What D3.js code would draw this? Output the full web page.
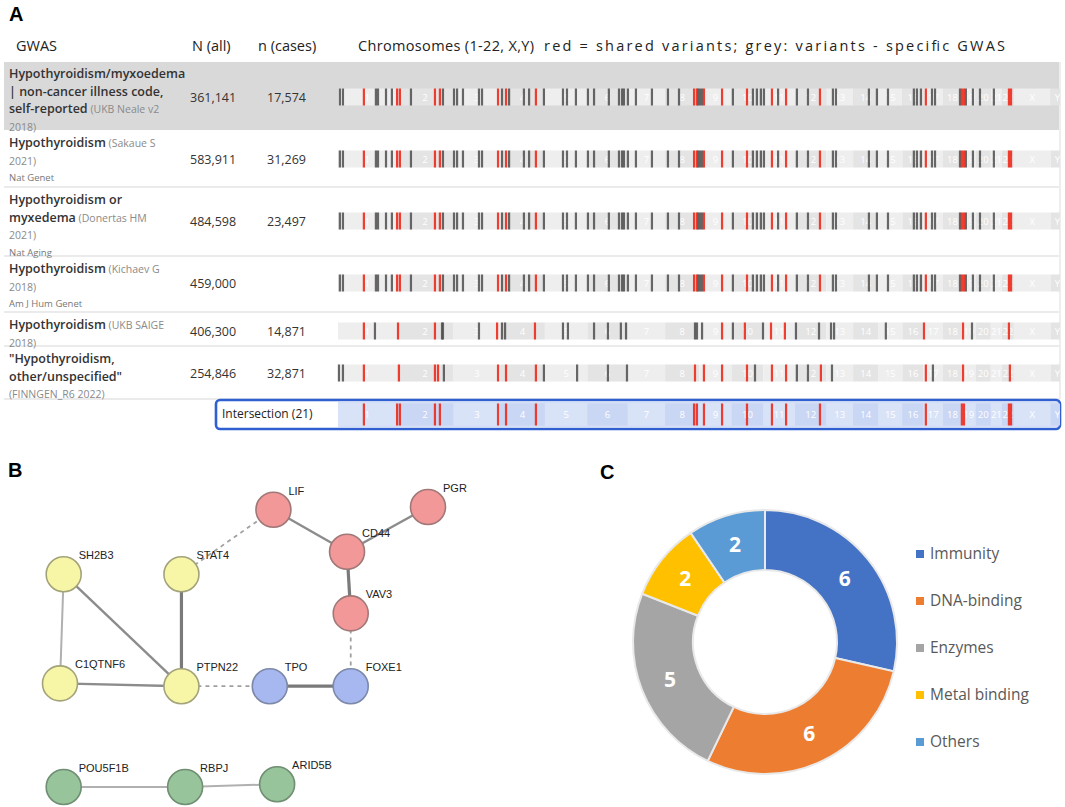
<!DOCTYPE html>
<html>
<head>
<meta charset="utf-8">
<script src="https://cdn.jsdelivr.net/npm/d3@7"></script>
<style>
  body { margin: 0; background: #fff; }
  svg { font-family: "Open Sans", "Liberation Sans", sans-serif; }
</style>
</head>
<body>
<svg id="fig" width="1065" height="807"></svg>
<script>
// ---- panel A data ----
var chromNames = ["1","2","3","4","5","6","7","8","9","10","11","12","13","14","15","16","17","18","19","20","21","22","X","Y"];
var chromLengths = [249,242,198,190,181,171,159,145,138,134,135,133,114,107,102,90,83,80,59,64,47,51,156,57]; // Mb

var gwasLines = [
  [["Hypothyroidism/myxoedema",""],["| non-cancer illness code,",""],["self-reported"," (UKB Neale v2"],["","2018)"]],
  [["Hypothyroidism"," (Sakaue S"],["","2021)"]],
  [["Hypothyroidism or",""],["myxedema"," (Donertas HM"],["","2021)"]],
  [["Hypothyroidism"," (Kichaev G"],["","2018)"]],
  [["Hypothyroidism"," (UKB SAIGE"],["","2018)"]],
  [["\"Hypothyroidism,",""],["other/unspecified\"",""],["","(FINNGEN_R6 2022)"]]
];
var gwasJournal = ["", "Nat Genet", "Nat Aging", "Am J Hum Genet", "", ""];
var gwasN = ["361,141", "583,911", "484,598", "459,000", "406,300", "254,846"];
var gwasCases = ["17,574", "31,269", "23,497", "", "14,871", "32,871"];

// variant positions along the concatenated genome (Mb)
var sharedVariants = [110,251,263,412,433,680,714,841,1513,1525,1555,1632,1738,1844,1904,2048,2498,2651,2660,2851,2860];

var redRow1 = [110,251,263,412,433,680,714,841,1513,1525,1555,1632,1738,1844,1904,2048,2498,2651,2660,2851,2860];
var greyRow1 = [8,21,161,170,204,229,310,446,493,506,531,599,612,697,727,790,812,875,956,973,1011,1062,1088,1151,1194,1207,1215,1232,1266,1334,1402,1449,1530,1538,1547,1678,1763,1780,1797,1810,1870,1950,1997,2103,2116,2256,2290,2337,2447,2460,2477,2524,2537,2643,2668,2698,2728,2787];
var redRow2 = [110,251,263,412,433,680,714,841,1513,1525,1555,1632,1738,1844,1904,2048,2498,2651,2660,2851,2860];
var greyRow2 = [8,21,161,170,204,229,310,446,493,506,531,599,612,697,727,790,812,875,956,973,1011,1062,1088,1151,1194,1207,1215,1232,1266,1334,1402,1449,1530,1538,1547,1678,1763,1780,1797,1810,1870,1950,1997,2103,2116,2256,2290,2337,2447,2460,2477,2524,2537,2643,2668,2698,2728,2787];
var redRow3 = [110,251,263,412,433,680,714,841,1513,1525,1555,1632,1738,1844,1904,2048,2498,2651,2660,2851,2860];
var greyRow3 = [8,21,161,170,204,229,310,446,493,506,531,599,612,697,727,790,812,875,956,973,1011,1062,1088,1151,1194,1207,1215,1232,1266,1334,1402,1449,1530,1538,1547,1678,1763,1780,1797,1810,1870,1950,1997,2103,2116,2256,2290,2337,2447,2460,2477,2524,2537,2643,2668,2698,2728,2787];
var redRow4 = [110,251,263,412,433,680,714,841,1513,1525,1555,1632,1738,1844,1904,2048,2498,2651,2660,2851,2860];
var greyRow4 = [8,21,161,170,204,229,310,446,493,506,531,599,612,697,727,790,812,875,956,973,1011,1062,1088,1151,1194,1207,1215,1232,1266,1334,1402,1449,1530,1538,1547,1678,1763,1780,1797,1810,1870,1950,1997,2103,2116,2256,2290,2337,2447,2460,2477,2524,2537,2643,2668,2698,2728,2787];
var redRow5 = [110,255,412,676,837,1632,1729,1840,1899,2490,2656,2851];
var greyRow5 = [157,442,446,599,697,710,956,977,1088,1147,1202,1224,1517,1525,1547,1678,1806,1946,2044,2095,2108,2328,2694];
var redRow6 = [110,259,412,425,680,714,841,1517,1555,1632,1738,1844,1904,2052,2498,2656,2855];
var greyRow6 = [4,21,450,875,1016,1147,1228,1772,1950,1997,2099,2528];

var rowRed = [redRow1, redRow2, redRow3, redRow4, redRow5, redRow6];
var rowGrey = [greyRow1, greyRow2, greyRow3, greyRow4, greyRow5, greyRow6];

// ---- panel B data ----
var geneNames = ["LIF","PGR","CD44","VAV3","SH2B3","STAT4","C1QTNF6","PTPN22","TPO","FOXE1","POU5F1B","RBPJ","ARID5B"];
var geneGroup = ["red","red","red","red","yellow","yellow","yellow","yellow","blue","blue","green","green","green"];
var geneLayoutX = [58,100,78,79,1,33,0,33,57,79,1,34,59];
var geneLayoutY = [1,0,16,38,24,24,63,64,64,64,100,100,99];
var geneLinks = [
  ["LIF","CD44","mid"], ["PGR","CD44","mid"], ["CD44","VAV3","strong"], ["VAV3","FOXE1","dashed"],
  ["STAT4","LIF","dashed"], ["SH2B3","C1QTNF6","weak"], ["SH2B3","PTPN22","mid"], ["STAT4","PTPN22","strong"],
  ["C1QTNF6","PTPN22","mid"], ["PTPN22","TPO","dashed"], ["TPO","FOXE1","strong"],
  ["POU5F1B","RBPJ","weak"], ["RBPJ","ARID5B","weak"]
];

// ---- panel C data ----
var funcCategories = ["Immunity","DNA-binding","Enzymes","Metal binding","Others"];
var funcCounts = [6, 6, 5, 2, 2];
var funcColors = ["#4472c4","#ed7d31","#a5a5a5","#ffc000","#5b9bd5"];

var svg = d3.select("#fig");

// panel letters
svg.append("text").attr("x", 9).attr("y", 21).attr("font-size", 20).attr("font-weight", 700)
  .attr("font-family", "Liberation Sans, Arial, sans-serif").text("A");
svg.append("text").attr("x", 8).attr("y", 477).attr("font-size", 20).attr("font-weight", 700)
  .attr("font-family", "Liberation Sans, Arial, sans-serif").text("B");
svg.append("text").attr("x", 600).attr("y", 479).attr("font-size", 20).attr("font-weight", 700)
  .attr("font-family", "Liberation Sans, Arial, sans-serif").text("C");

// ===================== panel A =====================
var chromStart = [0].concat(Array.from(d3.cumsum(chromLengths)));
var genomeLen = chromStart[chromStart.length - 1];
var gx = d3.scaleLinear().domain([0, genomeLen]).range([338, 1064]);

var head = svg.append("g").attr("font-size", 14.5).attr("fill", "#222");
head.append("text").attr("x", 16).attr("y", 51).text("GWAS");
head.append("text").attr("x", 192).attr("y", 51).text("N (all)");
head.append("text").attr("x", 258).attr("y", 51).text("n (cases)");
head.append("text").attr("x", 358).attr("y", 51).attr("textLength", 176).attr("lengthAdjust", "spacing")
  .text("Chromosomes (1-22, X,Y)");
head.append("text").attr("x", 544).attr("y", 51).attr("textLength", 461).attr("lengthAdjust", "spacing")
  .text("red = shared variants; grey: variants - specific GWAS");

var rowTop = [62, 131, 188, 257, 313, 347];
var rowBottom = [130, 187, 256, 312, 346, 399];
var barY = [97, 159, 221, 283, 331, 373];

svg.append("defs").append("clipPath").attr("id", "barclip")
  .append("rect").attr("x", 330).attr("y", 0).attr("width", 730).attr("height", 807);

// row backgrounds / separators
svg.append("rect").attr("x", 4).attr("y", rowTop[0]).attr("width", 1056)
  .attr("height", rowBottom[0] - rowTop[0]).attr("fill", "#d9d9d9");
rowBottom.forEach(function(b, i){
  if (i === 0) return;
  svg.append("rect").attr("x", 4).attr("y", b - 1).attr("width", 1056).attr("height", 2).attr("fill", "#ebebeb");
});
svg.append("rect").attr("x", 1059).attr("y", 62).attr("width", 2).attr("height", 337).attr("fill", "#eeeeee");

function drawBands(g, cy, h, shades, labelColor){
  g.selectAll("rect.band").data(chromNames).enter().append("rect")
    .attr("class", "band")
    .attr("x", function(d, i){ return gx(chromStart[i]); })
    .attr("width", function(d, i){ return gx(chromStart[i + 1]) - gx(chromStart[i]); })
    .attr("y", cy - h / 2).attr("height", h)
    .attr("fill", function(d, i){ return shades[i % 2]; });
  g.selectAll("text.clab").data(chromNames).enter().append("text")
    .attr("class", "clab")
    .attr("x", function(d, i){ return gx(chromStart[i] + chromLengths[i] / 2); })
    .attr("y", cy + 3.5).attr("text-anchor", "middle")
    .attr("font-size", 9.5).attr("fill", labelColor).text(function(d){ return d; });
}

function drawTicks(g, cy, h, positions, color, op){
  g.selectAll(null).data(positions).enter().append("rect")
    .attr("x", function(d){ return gx(d) - 1.1; })
    .attr("width", 2.2)
    .attr("y", cy - h / 2).attr("height", h)
    .attr("fill", color).attr("opacity", op);
}

gwasLines.forEach(function(lines, r){
  var g = svg.append("g");
  var base = rowTop[r] + 16;
  lines.forEach(function(parts, k){
    var t = g.append("text").attr("x", 9).attr("y", base + k * 17.5);
    t.append("tspan").attr("font-size", 12.5).attr("font-weight", 600).attr("fill", "#333").text(parts[0]);
    if (parts[1]) t.append("tspan").attr("font-size", 10.5).attr("fill", "#8a8a8a").text(parts[1]);
  });
  if (gwasJournal[r]) {
    g.append("text").attr("x", 9).attr("y", base + lines.length * 17.5 - 1)
      .attr("font-size", 9.5).attr("fill", "#777").text(gwasJournal[r]);
  }
  g.append("text").attr("x", 190).attr("y", barY[r] + 5).attr("font-size", 12.5).attr("fill", "#333").text(gwasN[r]);
  g.append("text").attr("x", 267).attr("y", barY[r] + 5).attr("font-size", 12.5).attr("fill", "#333").text(gwasCases[r]);

  var bar = svg.append("g").attr("clip-path", "url(#barclip)");
  drawBands(bar, barY[r], 17, ["#eeeeee", "#e4e4e4"], "#ffffff");
  drawTicks(bar, barY[r], 17, rowGrey[r], "#4d4d4d", 0.85);
  drawTicks(bar, barY[r], 17, rowRed[r], "#ee2a1b", 0.9);
});

// intersection row
var inter = svg.append("g");
inter.append("rect").attr("x", 216).attr("y", 400).attr("width", 844).attr("height", 29)
  .attr("rx", 4).attr("fill", "#ffffff").attr("stroke", "#2f5fd0").attr("stroke-width", 2.6);
var ibar = inter.append("g").attr("clip-path", "url(#barclip)");
ibar.append("rect").attr("x", 338).attr("y", 402).attr("width", 720).attr("height", 25).attr("fill", "#d4def6");
drawBands(ibar, 414.5, 22, ["#d9e3f8", "#c9d6f4"], "#ffffff");
drawTicks(ibar, 414.5, 22, sharedVariants, "#ee2a1b", 0.9);
inter.append("text").attr("x", 222).attr("y", 418).attr("font-size", 12).attr("fill", "#222").text("Intersection (21)");

// ===================== panel B =====================
var nx = d3.scaleLinear().domain([0, 100]).range([60, 428]);
var ny = d3.scaleLinear().domain([0, 100]).range([507, 787]);
var groupFill = { red: "#f39898", yellow: "#f7f5a6", blue: "#a7b8f0", green: "#97c49b" };
var groupStroke = { red: "#a07878", yellow: "#a3a37a", blue: "#7d89a8", green: "#6f8e72" };
var linkStyle = {
  weak:   { w: 2,   c: "#b0b0b0", dash: null },
  mid:    { w: 2.4, c: "#8c8c8c", dash: null },
  strong: { w: 3.2, c: "#7a7a7a", dash: null },
  dashed: { w: 1.8, c: "#a0a0a0", dash: "4,4" }
};

var nodes = geneNames.map(function(n, i){
  return { id: n, group: geneGroup[i], x: nx(geneLayoutX[i]), y: ny(geneLayoutY[i]) };
});
var byId = {};
nodes.forEach(function(n){ byId[n.id] = n; });

var net = svg.append("g");
net.selectAll("line").data(geneLinks).enter().append("line")
  .attr("x1", function(d){ return byId[d[0]].x; })
  .attr("y1", function(d){ return byId[d[0]].y; })
  .attr("x2", function(d){ return byId[d[1]].x; })
  .attr("y2", function(d){ return byId[d[1]].y; })
  .attr("stroke", function(d){ return linkStyle[d[2]].c; })
  .attr("stroke-width", function(d){ return linkStyle[d[2]].w; })
  .attr("stroke-dasharray", function(d){ return linkStyle[d[2]].dash; });

net.selectAll("circle").data(nodes).enter().append("circle")
  .attr("cx", function(d){ return d.x; })
  .attr("cy", function(d){ return d.y; })
  .attr("r", 17.5)
  .attr("fill", function(d){ return groupFill[d.group]; })
  .attr("stroke", function(d){ return groupStroke[d.group]; })
  .attr("stroke-width", 1.6);

net.selectAll("text").data(nodes).enter().append("text")
  .attr("x", function(d){ return d.x + 15; })
  .attr("y", function(d){ return d.y - 15; })
  .attr("font-family", "Liberation Sans, Arial, sans-serif")
  .attr("font-size", 11).attr("fill", "#222")
  .text(function(d){ return d.id; });

// ===================== panel C =====================
var pie = d3.pie().sort(null).value(function(d){ return d; });
var arc = d3.arc().innerRadius(72).outerRadius(132);
var arcs = pie(funcCounts);

var donut = svg.append("g").attr("transform", "translate(765,642)");
donut.selectAll("path").data(arcs).enter().append("path")
  .attr("d", arc)
  .attr("fill", function(d, i){ return funcColors[i]; })
  .attr("stroke", "#e9e9e9").attr("stroke-width", 2);
donut.selectAll("text").data(arcs).enter().append("text")
  .attr("transform", function(d){ return "translate(" + arc.centroid(d) + ")"; })
  .attr("text-anchor", "middle").attr("dy", "0.36em")
  .attr("font-size", 21).attr("font-weight", 700).attr("fill", "#ffffff")
  .text(function(d){ return d.data; });

var ly = d3.scalePoint().domain(funcCategories).range([554, 742]);
var leg = svg.append("g");
leg.selectAll("rect").data(funcCategories).enter().append("rect")
  .attr("x", 916).attr("y", function(d){ return ly(d) - 4; })
  .attr("width", 8).attr("height", 8)
  .attr("fill", function(d, i){ return funcColors[i]; });
leg.selectAll("text").data(funcCategories).enter().append("text")
  .attr("x", 930).attr("y", function(d){ return ly(d) + 5; })
  .attr("font-size", 15.5).attr("fill", "#595959")
  .text(function(d){ return d; });
</script>
</body>
</html>
